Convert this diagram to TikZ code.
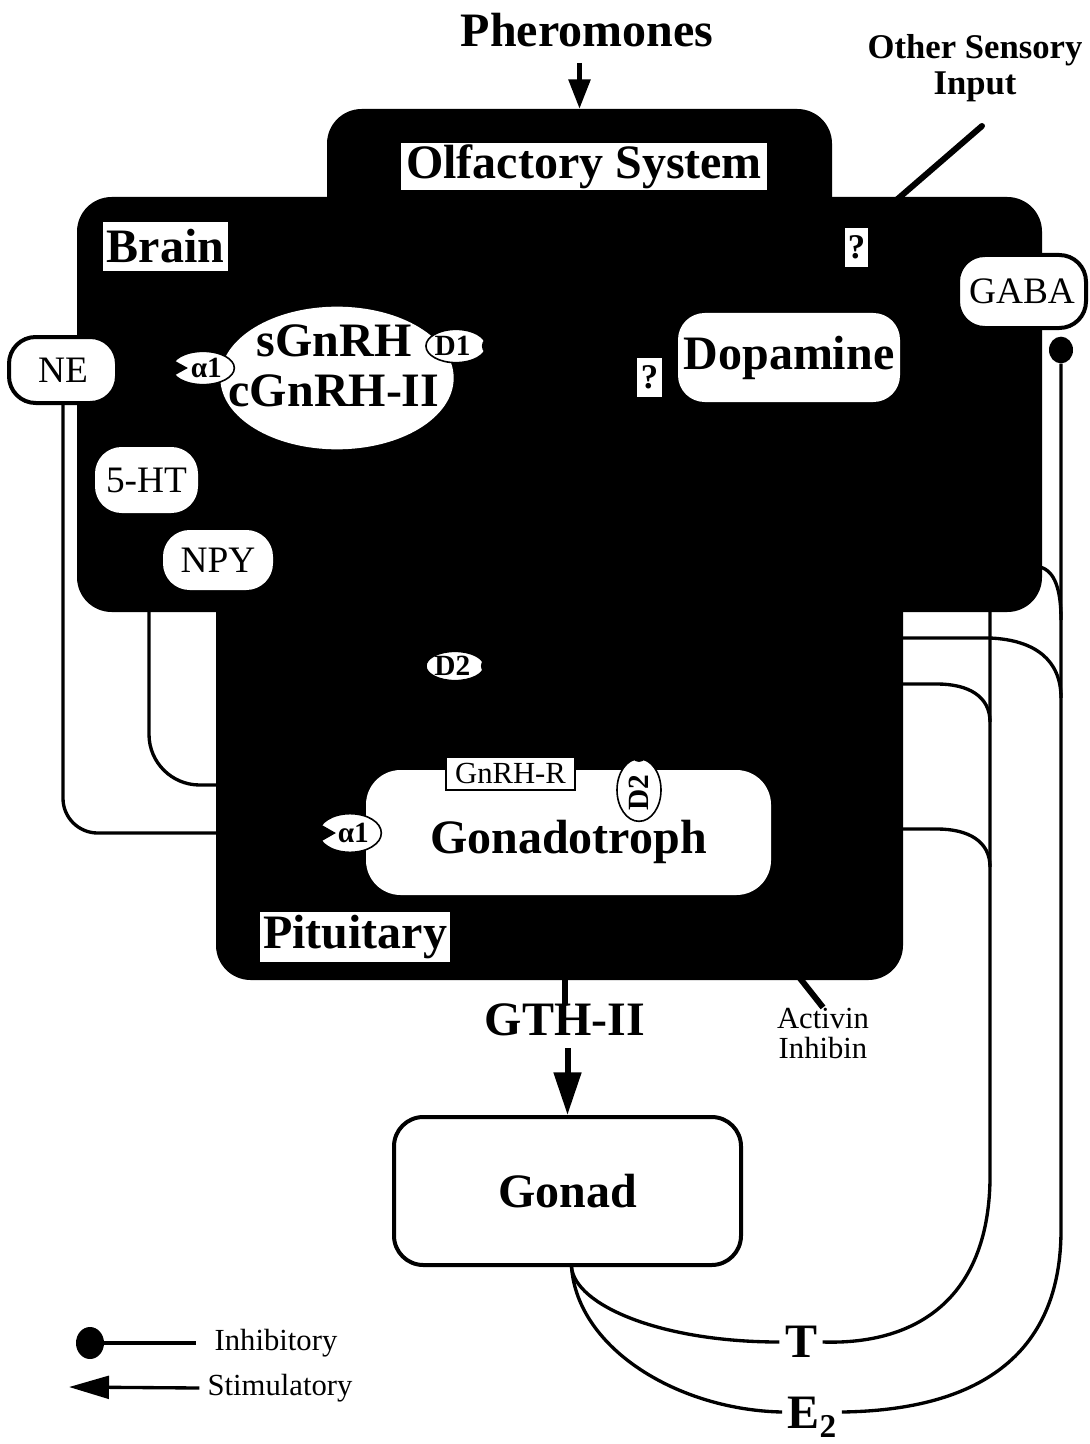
\documentclass[tikz,border=0pt]{standalone}
\usepackage{fontspec}
\setmainfont{Liberation Serif}
\usetikzlibrary{fit,arrows.meta,shapes.geometric,calc}
\pgfdeclarelayer{bg}
\pgfdeclarelayer{mid}
\pgfsetlayers{bg,mid,main}
\newcommand{\FBig}{\fontsize{36}{37.5}\selectfont\bfseries}
\newcommand{\FReg}{\fontsize{28}{30}\selectfont}
\newcommand{\FSmall}{\fontsize{23}{22.5}\selectfont}
\newcommand{\FRec}{\fontsize{22}{22}\selectfont\bfseries}
\newcommand{\FMid}{\fontsize{26}{27}\selectfont\bfseries}
\begin{document}
\begin{tikzpicture}[x=0.75pt,y=-0.75pt,
  blk/.style={fill=black,draw=none,rounded corners=26pt,inner sep=0pt},
  lbl/.style={fill=white,draw=none,inner sep=0pt,font=\FBig},
  qbox/.style={fill=white,draw=none,inner sep=0pt,font=\fontsize{26}{26}\selectfont\bfseries},
  wbox/.style={fill=white,draw=none,rounded corners=20pt,inner sep=0pt,font=\FReg},
  obox/.style={wbox,draw=black,line width=3pt},
  cell/.style={fill=white,draw=none,rounded corners=26pt,inner sep=0pt,font=\FBig},
  recep/.style={ellipse,fill=white,draw=black,line width=1.2pt,inner sep=0pt,font=\FRec},
  conn/.style={line width=2.5pt},
  heavy/.style={line width=4.5pt},
  txt/.style={inner sep=0pt}
]
\useasboundingbox (0,0) rectangle (1089,1444);

% ---------- black regions ----------
\begin{pgfonlayer}{mid}
\node[blk,fit={(327,109) (832,260)}] (olf) {};
\node[blk,fit={(77,197) (1042,612)}] (brain) {};
\node[blk,fit={(216,560) (903,980)}] (pit) {};
\end{pgfonlayer}

% ---------- texts and white nodes ----------
\node[txt,font=\FBig,text depth=0pt] (pher) at (587,30) {Pheromones};
\node[txt,font=\FMid,align=center] (osi) at (975,68) {Other Sensory\\Input};
\node[lbl,minimum width=274.5pt,minimum height=35.25pt] (olflbl) at (584,166.5) {Olfactory System};
\node[lbl,minimum width=93.75pt,minimum height=36.75pt] (brainlbl) at (165.5,246.5) {Brain};
\node[qbox,minimum width=17.25pt,minimum height=29.25pt] (q1) at (856.5,247.5) {?};
\node[qbox,minimum width=18.75pt,minimum height=29.25pt] (q2) at (649.5,377.5) {?};
\node[cell,rounded corners=20pt,minimum width=166.5pt,minimum height=66.75pt] (dop) at (789,357.5) {Dopamine};
\node[obox,minimum width=96pt,minimum height=54.75pt] (gaba) at (1022,291.5) {GABA};
\node[ellipse,fill=black,minimum width=18pt,minimum height=20pt,inner sep=0pt] (gabadot) at (1061,350) {};
\node[obox,minimum width=81pt,minimum height=49.5pt] (ne) at (63,370) {NE};
\node[wbox,minimum width=77.25pt,minimum height=49.5pt] (ht) at (146.5,480) {5-HT};
\node[wbox,minimum width=82.5pt,minimum height=45pt] (npy) at (218,560) {NPY};
\node[ellipse,fill=white,minimum width=175pt,minimum height=107pt,inner sep=0pt] (gnrh) at (337,378) {};
\node[txt,font=\FBig,align=center] (gnrhtxt) at (334,366) {sGnRH\\cGnRH-II};

\node[recep,minimum width=47pt,minimum height=25pt] (a1b) at (203,368) {\hspace*{5pt}α1};
\fill (a1b.west) ++(-3,-11) -- ++(20,11) -- ++(-20,11) -- cycle;
\node[recep,minimum width=42pt,minimum height=25pt] (d1) at (456,346) {D1\hspace*{5pt}};
\fill (d1.east) ++(4,0) circle (9);
\node[recep,minimum width=38pt,minimum height=22pt] (d2a) at (455,666) {D2\hspace*{4pt}};
\fill (d2a.east) ++(4,0) circle (8);

\node[cell,minimum width=303.75pt,minimum height=93.75pt,text height=31.5pt,text depth=0pt] (gon) at (568.5,832.5) {Gonadotroph};
\node[fill=white,draw=black,line width=1.5pt,inner sep=0pt,font=\fontsize{23}{23}\selectfont,minimum width=96.75pt,minimum height=24.75pt] (gnrhr) at (510.5,773.5) {GnRH-R};
\node[recep,minimum width=33pt,minimum height=47pt] (d2b) at (639,790) {\rotatebox{90}{D2\hspace*{4pt}}};
\fill (d2b.north) ++(0,-4) circle (8);
\node[recep,minimum width=47pt,minimum height=29pt] (a1g) at (350,833) {\hspace*{5pt}α1};
\fill (a1g.west) ++(-3,-12) -- ++(21,12) -- ++(-21,12) -- cycle;

\node[lbl,minimum width=142.5pt,minimum height=37.5pt] (pitlbl) at (355,937) {Pituitary};

\node[txt,font=\FBig,text depth=0pt] (gth) at (565,1020) {GTH-II};
\node[wbox,draw=black,line width=3pt,rounded corners=22pt,font=\FBig,minimum width=260.25pt,minimum height=111pt] (gonad) at (567.5,1191) {Gonad};
\node[txt,font=\FSmall,align=center] (act) at (823,1033) {Activin\\Inhibin};
\node[font=\FBig,inner sep=4pt,text depth=0pt] (T) at (801,1342) {T};
\node[font=\FBig,inner sep=4pt,text height=24pt,text depth=0pt] (E2) at (812,1412) {E\raisebox{-7pt}{\fontsize{25}{25}\selectfont 2}};

% legend
\node[ellipse,fill=black,minimum width=21pt,minimum height=24pt,inner sep=0pt] (inhdot) at (90,1343) {};
\node[txt,font=\FSmall] (inhlbl) at (276,1343) {Inhibitory};
\node[txt,font=\FSmall] (stimlbl) at (280,1388) {Stimulatory};

% ---------- coordinates for free ends ----------
\coordinate (npyx) at (149,0);
\coordinate (npyend) at (300,785);
\coordinate (osistart) at (982,126);
\coordinate (osiend) at (893,203);
\coordinate (actstart) at (795,972);
\coordinate (tbrain) at (990,560);
\coordinate (e2brain) at (1020,567);
\coordinate (br2s) at (880,638);
\coordinate (br3s) at (880,684);
\coordinate (br4s) at (880,829);
\coordinate (stimtip) at (69,1387);

% ---------- connectors (behind black regions) ----------
\begin{pgfonlayer}{bg}
\draw[conn,rounded corners=26pt] (ne.south) |- (a1g.west);
\draw[conn,rounded corners=38pt] (npy.south -| npyx) |- (npyend);
\draw[heavy,line cap=round] (osistart) -- (osiend);
\draw[heavy] (pit.south -| gth) -- (gth.north);
\draw[heavy] (actstart) -- (act.north);
\draw[conn] (T.east) .. controls (915,1345) and (988,1300) .. (990,1180) -- (tbrain);
\draw[conn] (E2.east) .. controls (985,1410) and (1061,1350) .. (1061,1230) -- (gabadot);
\draw[conn] (e2brain) -- (1040,567) .. controls (1055,571) and (1061,590) .. (1061,620);
\draw[conn] (br2s) -- (990,638) .. controls (1035,640) and (1061,660) .. (1061,698);
\draw[conn] (br3s) -- (937,684) .. controls (968,684) and (990,696) .. (990,722);
\draw[conn] (br4s) -- (937,829) .. controls (968,829) and (990,841) .. (990,867);
\draw[conn] ($(gonad.south)+(4,0)$) .. controls (575,1305) and (660,1342) .. (T.west);
\draw[conn] ($(gonad.south)+(4,0)$) .. controls (578,1350) and (680,1410) .. (E2.west);
\end{pgfonlayer}

% ---------- arrows ----------
\draw[line width=3.5pt,-{Triangle[length=22pt,width=16pt]}] ($(olf.north |- pher.south)+(0,16)$) -- (olf.north);
\draw[line width=4.5pt,-{Triangle[length=32pt,width=20pt]}] ($(gonad.north |- gth.south)+(0,12)$) -- (gonad.north);
\draw[conn] (inhdot) -- ($(inhlbl.west)+(-18,0)$);
\draw[conn,-{Triangle[length=30pt,width=17pt]}] ($(stimlbl.west)+(-8,0)$) -- (stimtip);
\end{tikzpicture}
\end{document}
